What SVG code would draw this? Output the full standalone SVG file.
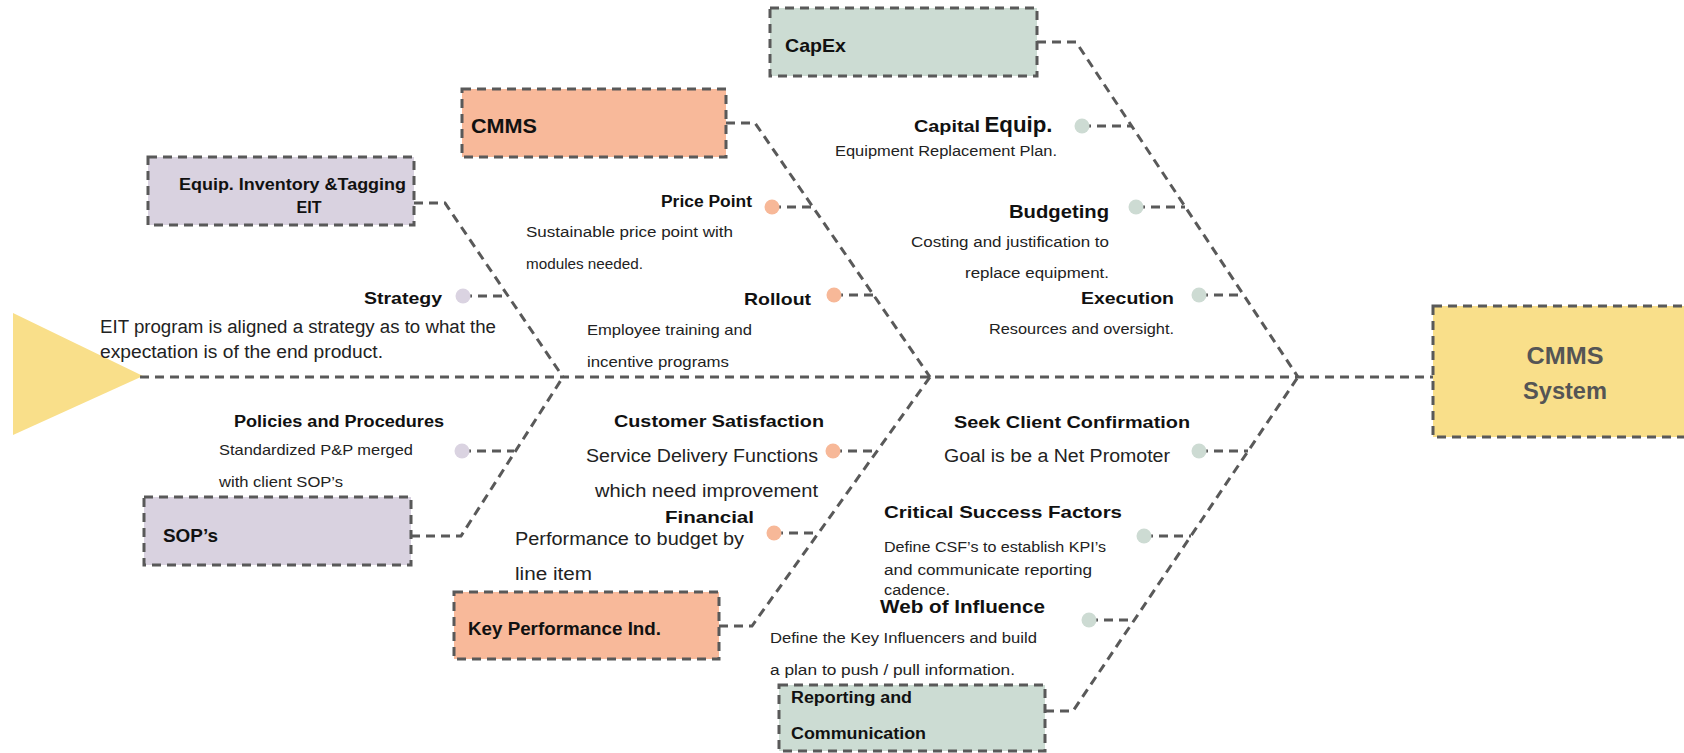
<svg xmlns="http://www.w3.org/2000/svg" width="1684" height="753" viewBox="0 0 1684 753">
<style>
.ln{fill:none;stroke:#595959;stroke-width:3;stroke-dasharray:9 6}
.bx{stroke:#595959;stroke-width:3;stroke-dasharray:9 6}
.pu{fill:#d9d2e0}.or{fill:#f8b99a}.gr{fill:#ccdcd3}.ye{fill:#f9df8a}
.b{font-family:"Liberation Sans",Arial,sans-serif;font-weight:bold;fill:#111}
.r{font-family:"Liberation Sans",Arial,sans-serif;fill:#222}
.dpu{fill:#dad3e1}.dor{fill:#f7b898}.dgr{fill:#cddbd3}
</style>
<rect width="1684" height="753" fill="#fff"/>
<polygon points="13,313 143,376 13,435" class="ye"/>
<g id="connectors">
<path class="ln" d="M140 377 H1433"/>
<path class="ln" d="M414 203 H445 L563 377"/>
<path class="ln" d="M411 536 H461 L563 377"/>
<path class="ln" d="M726 123 H755 L930 377"/>
<path class="ln" d="M719 626 H752 L930 377"/>
<path class="ln" d="M1037 42 H1076 L1298 377"/>
<path class="ln" d="M1045 711 H1073 L1298 377"/>
<path class="ln" d="M463 296 H508"/>
<path class="ln" d="M462 451 H514"/>
<path class="ln" d="M772 207 H813"/>
<path class="ln" d="M834 295 H873"/>
<path class="ln" d="M833 451 H877"/>
<path class="ln" d="M774 533 H818"/>
<path class="ln" d="M1082 126 H1132"/>
<path class="ln" d="M1136 207 H1185"/>
<path class="ln" d="M1199 295 H1244"/>
<path class="ln" d="M1199 451 H1248"/>
<path class="ln" d="M1144 536 H1191"/>
<path class="ln" d="M1089 620 H1134"/>
</g>
<g id="cmms-system">
<rect x="1433" y="306" width="256" height="131" class="ye bx"/>
<text x="1565" y="364" class="b" font-size="23" style="fill:#555" text-anchor="middle" textLength="77" lengthAdjust="spacingAndGlyphs">CMMS</text>
<text x="1565" y="399" class="b" font-size="23" style="fill:#555" text-anchor="middle" textLength="84" lengthAdjust="spacingAndGlyphs">System</text>
</g>
<g id="equip">
<rect x="148" y="157" width="266" height="68" class="pu bx"/>
<text x="179" y="190" class="b" font-size="16" textLength="227" lengthAdjust="spacingAndGlyphs">Equip. Inventory &amp;Tagging</text>
<text x="309" y="213" class="b" font-size="16" text-anchor="middle">EIT</text>
</g>
<g id="sops">
<rect x="144" y="497" width="267" height="68" class="pu bx"/>
<text x="163" y="542" class="b" font-size="19" textLength="55" lengthAdjust="spacingAndGlyphs">SOP’s</text>
</g>
<g id="cmms">
<rect x="462" y="89" width="264" height="68" class="or bx"/>
<text x="471" y="133" class="b" font-size="20" textLength="66" lengthAdjust="spacingAndGlyphs">CMMS</text>
</g>
<g id="kpi">
<rect x="454" y="592" width="265" height="67" class="or bx"/>
<text x="468" y="635" class="b" font-size="18" textLength="193" lengthAdjust="spacingAndGlyphs">Key Performance Ind.</text>
</g>
<g id="capex">
<rect x="770" y="8" width="267" height="68" class="gr bx"/>
<text x="785" y="52" class="b" font-size="19" textLength="61" lengthAdjust="spacingAndGlyphs">CapEx</text>
</g>
<g id="reporting">
<rect x="779" y="685" width="266" height="66" class="gr bx"/>
<text x="791" y="703" class="b" font-size="16" textLength="121" lengthAdjust="spacingAndGlyphs">Reporting and</text>
<text x="791" y="739" class="b" font-size="16" textLength="135" lengthAdjust="spacingAndGlyphs">Communication</text>
</g>
<g id="strategy">
<circle cx="463" cy="296" r="7.5" class="dpu"/>
<text x="364" y="304" class="b" font-size="17" textLength="78" lengthAdjust="spacingAndGlyphs">Strategy</text>
<text x="100" y="333" class="r" font-size="18" textLength="396" lengthAdjust="spacingAndGlyphs">EIT program is aligned a strategy as to what the</text>
<text x="100" y="358" class="r" font-size="18" textLength="283" lengthAdjust="spacingAndGlyphs">expectation is of the end product.</text>
</g>
<g id="policies">
<circle cx="462" cy="451" r="7.5" class="dpu"/>
<text x="234" y="427" class="b" font-size="16" textLength="210" lengthAdjust="spacingAndGlyphs">Policies and Procedures</text>
<text x="219" y="455" class="r" font-size="15" textLength="194" lengthAdjust="spacingAndGlyphs">Standardized P&amp;P merged</text>
<text x="219" y="487" class="r" font-size="15" textLength="124" lengthAdjust="spacingAndGlyphs">with client SOP’s</text>
</g>
<g id="price-point">
<circle cx="772" cy="207" r="7.5" class="dor"/>
<text x="661" y="207" class="b" font-size="16" textLength="91" lengthAdjust="spacingAndGlyphs">Price Point</text>
<text x="526" y="237" class="r" font-size="14" textLength="207" lengthAdjust="spacingAndGlyphs">Sustainable price point with</text>
<text x="526" y="269" class="r" font-size="14" textLength="117" lengthAdjust="spacingAndGlyphs">modules needed.</text>
</g>
<g id="rollout">
<circle cx="834" cy="295" r="7.5" class="dor"/>
<text x="744" y="305" class="b" font-size="17" textLength="67" lengthAdjust="spacingAndGlyphs">Rollout</text>
<text x="587" y="335" class="r" font-size="15" textLength="165" lengthAdjust="spacingAndGlyphs">Employee training and</text>
<text x="587" y="367" class="r" font-size="15" textLength="142" lengthAdjust="spacingAndGlyphs">incentive programs</text>
</g>
<g id="customer-satisfaction">
<circle cx="833" cy="451" r="7.5" class="dor"/>
<text x="614" y="427" class="b" font-size="17" textLength="210" lengthAdjust="spacingAndGlyphs">Customer Satisfaction</text>
<text x="586" y="462" class="r" font-size="18" textLength="232" lengthAdjust="spacingAndGlyphs">Service Delivery Functions</text>
<text x="595" y="497" class="r" font-size="18" textLength="223" lengthAdjust="spacingAndGlyphs">which need improvement</text>
</g>
<g id="financial">
<circle cx="774" cy="533" r="7.5" class="dor"/>
<text x="665" y="523" class="b" font-size="17" textLength="89" lengthAdjust="spacingAndGlyphs">Financial</text>
<text x="515" y="545" class="r" font-size="18" textLength="229" lengthAdjust="spacingAndGlyphs">Performance to budget by</text>
<text x="515" y="580" class="r" font-size="18" textLength="77" lengthAdjust="spacingAndGlyphs">line item</text>
</g>
<g id="capital-equip">
<circle cx="1082" cy="126" r="7.5" class="dgr"/>
<text x="914" y="132" class="b" font-size="16"><tspan textLength="66" lengthAdjust="spacingAndGlyphs">Capital</tspan> <tspan font-size="22" textLength="68" lengthAdjust="spacingAndGlyphs">Equip.</tspan></text>
<text x="835" y="156" class="r" font-size="14" textLength="222" lengthAdjust="spacingAndGlyphs">Equipment Replacement Plan.</text>
</g>
<g id="budgeting">
<circle cx="1136" cy="207" r="7.5" class="dgr"/>
<text x="1009" y="218" class="b" font-size="19" textLength="100" lengthAdjust="spacingAndGlyphs">Budgeting</text>
<text x="911" y="247" class="r" font-size="14" textLength="198" lengthAdjust="spacingAndGlyphs">Costing and justification to</text>
<text x="965" y="278" class="r" font-size="14" textLength="144" lengthAdjust="spacingAndGlyphs">replace equipment.</text>
</g>
<g id="execution">
<circle cx="1199" cy="295" r="7.5" class="dgr"/>
<text x="1081" y="304" class="b" font-size="17" textLength="93" lengthAdjust="spacingAndGlyphs">Execution</text>
<text x="989" y="334" class="r" font-size="14" textLength="185" lengthAdjust="spacingAndGlyphs">Resources and oversight.</text>
</g>
<g id="seek-client">
<circle cx="1199" cy="451" r="7.5" class="dgr"/>
<text x="954" y="428" class="b" font-size="17" textLength="236" lengthAdjust="spacingAndGlyphs">Seek Client Confirmation</text>
<text x="944" y="462" class="r" font-size="18" textLength="226" lengthAdjust="spacingAndGlyphs">Goal is be a Net Promoter</text>
</g>
<g id="csf">
<circle cx="1144" cy="536" r="7.5" class="dgr"/>
<text x="884" y="518" class="b" font-size="17" textLength="238" lengthAdjust="spacingAndGlyphs">Critical Success Factors</text>
<text x="884" y="552" class="r" font-size="14" textLength="222" lengthAdjust="spacingAndGlyphs">Define CSF’s to establish KPI’s</text>
<text x="884" y="575" class="r" font-size="14" textLength="208" lengthAdjust="spacingAndGlyphs">and communicate reporting</text>
<text x="884" y="595" class="r" font-size="14" textLength="66" lengthAdjust="spacingAndGlyphs">cadence.</text>
</g>
<g id="web-of-influence">
<circle cx="1089" cy="620" r="7.5" class="dgr"/>
<text x="880" y="613" class="b" font-size="18" textLength="165" lengthAdjust="spacingAndGlyphs">Web of Influence</text>
<text x="770" y="643" class="r" font-size="14" textLength="267" lengthAdjust="spacingAndGlyphs">Define the Key Influencers and build</text>
<text x="770" y="675" class="r" font-size="14" textLength="245" lengthAdjust="spacingAndGlyphs">a plan to push / pull information.</text>
</g>
</svg>
